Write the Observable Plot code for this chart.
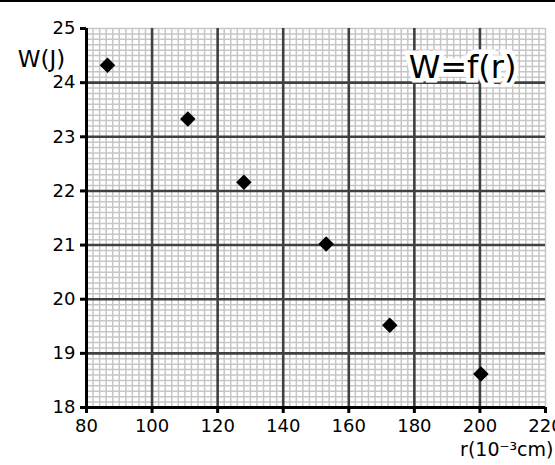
<!DOCTYPE html>
<html>
<head>
<meta charset="utf-8">
<script src="https://cdn.jsdelivr.net/npm/d3@7"></script>
<script src="https://cdn.jsdelivr.net/npm/@observablehq/plot@0.6"></script>
<style>
  html, body { margin: 0; padding: 0; background: #fff; overflow: hidden; }
  #wrap { position: relative; width: 555px; height: 465px; }
  #topline { position: absolute; left: 0; top: 0; width: 555px; height: 2px; background: #000; }
  svg { overflow: visible; }
</style>
</head>
<body>
<div id="wrap"><div id="topline"></div></div>
<script>
// Data
const r = [86.4, 110.9, 128.0, 153.1, 172.5, 200.3];      // r (10^-3 cm)
const W = [24.32, 23.33, 22.16, 21.02, 19.52, 18.62];     // W (J)
const xTicks = [80, 100, 120, 140, 160, 180, 200, 220];
const yTicks = [18, 19, 20, 21, 22, 23, 24, 25];
const xMajorGrid = [100, 120, 140, 160, 180, 200];
const yMajorGrid = [19, 20, 21, 22, 23, 24];
const xLabel = "r(10\u207B\u00B3cm)";
const yLabel = "W(J)";
const title = "W=f(r)";

const points = r.map((v, i) => ({r: v, W: W[i]}));
const xMinor = d3.range(80, 220.001, 2);
const yMinor = d3.range(18, 25.001, 0.1);

const chart = Plot.plot({
  width: 555,
  height: 465,
  marginLeft: 86,
  marginRight: 10,
  marginTop: 28,
  marginBottom: 58,
  style: {fontFamily: "DejaVu Sans, Verdana, sans-serif", fontSize: "18px", color: "#000", background: "transparent"},
  x: {domain: [80, 220]},
  y: {domain: [18, 25]},
  marks: [
    Plot.ruleX(xMinor, {stroke: "#c6c6c6", strokeWidth: 1.5}),
    Plot.ruleY(yMinor, {stroke: "#c6c6c6", strokeWidth: 1.5}),
    Plot.ruleX(xMajorGrid, {stroke: "#404040", strokeWidth: 2.6}),
    Plot.ruleY(yMajorGrid, {stroke: "#404040", strokeWidth: 2.6}),
    Plot.ruleX([80], {stroke: "#000", strokeWidth: 3}),
    Plot.ruleY([18], {stroke: "#000", strokeWidth: 3}),
    Plot.axisX({ticks: xTicks, tickFormat: d3.format("d"), tickSize: 6, tickPadding: 6, stroke: "#000", strokeWidth: 3, fill: "#000", fontSize: 18, label: null}),
    Plot.axisY({ticks: yTicks, tickFormat: d3.format("d"), tickSize: 6, tickPadding: 5, stroke: "#000", strokeWidth: 3, fill: "#000", fontSize: 18, label: null}),
    Plot.dot(points, {x: "r", y: "W", symbol: "diamond2", r: 7, fill: "#000", stroke: "none"}),
    Plot.text([title], {x: () => 194.7, y: () => 24.28, text: d => d, fontSize: 32, fill: "#000", stroke: "#fff", strokeWidth: 9, strokeLinejoin: "miter", fontFamily: "DejaVu Sans, sans-serif"}),
    Plot.text([yLabel], {frameAnchor: "top-left", text: d => d, dx: -45, dy: 22, textAnchor: "middle", fontSize: 23, fill: "#000"}),
    Plot.text([xLabel], {frameAnchor: "bottom-right", text: d => d, dx: 8, dy: 48, textAnchor: "end", fontSize: 19, fill: "#000"})
  ]
});
document.getElementById("wrap").appendChild(chart);
</script>
</body>
</html>
